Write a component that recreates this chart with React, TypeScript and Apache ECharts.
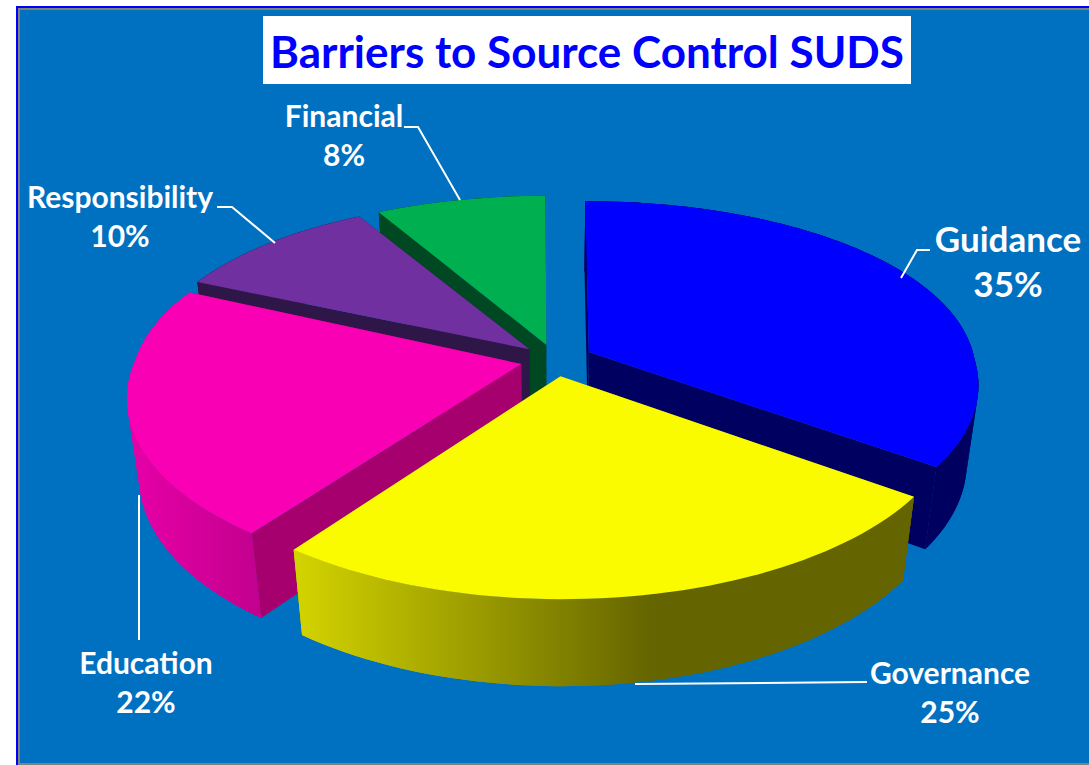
import React, { useEffect, useRef } from "react";
import * as echarts from "echarts";

const categories = ["Guidance", "Governance", "Education", "Responsibility", "Financial"];
const shares = [35, 25, 22, 10, 8];
const topColors = ["#0000ff", "#fbfb00", "#fa00b4", "#7030a0", "#00b050"];
const innerWallColors = ["#000060", "#666600", "#a6006e", "#2e1648", "#004822"];
const outerWallStops: [string, string, number][] = [
  ["#000060", "#000060", 1],
  ["#d4d400", "#646400", 0.58],
  ["#e800a8", "#c2008e", 1],
  ["#2e1648", "#2e1648", 1],
  ["#004822", "#004822", 1],
];

// Camera model for the tilted disc
const VIEW = {
  cx: 555, cy: 360, rx: 386, ry: 179,
  nearPerspective: 0.17, farPerspective: 0.12, yPerspective: 0.17,
  drop: 80, dropDepth: 0.028, explode: 0.09,
};
// Per-slice pull-out factor and angular nudge in degrees
const explodeFactor = [1.1, 1, 1, 1, 1];
const nudgeDegrees = [0, 0, 0, -1, -0.3];

// Label placement: centre x, first-line y, line gap, font size
const labelPlacement = [
  { x: 1008, y: 238, gap: 45, size: 35 },
  { x: 950, y: 672, gap: 39, size: 30 },
  { x: 146, y: 662, gap: 39, size: 30 },
  { x: 120, y: 196, gap: 39, size: 30 },
  { x: 344, y: 115, gap: 39, size: 30 },
];
const leaderLines: number[][][] = [
  [[930, 250], [917, 250], [901, 278]],
  [[867, 682], [635, 684]],
  [[139, 640], [139, 495]],
  [[217, 207], [232, 207], [275, 243]],
  [[404, 127], [418, 127], [460, 200]],
];

const total = shares.reduce((a, b) => a + b, 0);
const TAU = Math.PI * 2;

const project = (x: number, y: number, lowered: boolean): number[] => {
  const extra = lowered ? VIEW.dropDepth : 0;
  const wx = 1 + (y > 0 ? VIEW.farPerspective : VIEW.nearPerspective) * y + extra;
  const wy = 1 + VIEW.yPerspective * y + extra;
  return [
    VIEW.cx + (VIEW.rx * x) / wx,
    VIEW.cy + (-VIEW.ry * y + (lowered ? VIEW.drop : 0)) / wy,
  ];
};

// Angles run clockwise from twelve o'clock
const spans = shares.map((_, i) => {
  const before = shares.slice(0, i).reduce((a, b) => a + b, 0);
  const start = (before / total) * TAU + (nudgeDegrees[i] * Math.PI) / 180;
  return { start, end: start + (shares[i] / total) * TAU };
});

const buildSlice = (i: number) => {
  const { start, end } = spans[i];
  const mid = (start + end) / 2;
  const ox = VIEW.explode * explodeFactor[i] * Math.sin(mid);
  const oy = VIEW.explode * explodeFactor[i] * Math.cos(mid);
  const steps = Math.max(8, Math.ceil((end - start) / 0.03));
  const rim: number[][] = [];
  for (let s = 0; s <= steps; s++) {
    const a = start + ((end - start) * s) / steps;
    rim.push([ox + Math.sin(a), oy + Math.cos(a)]);
  }
  const top = rim.map((p) => project(p[0], p[1], false));
  const low = rim.map((p) => project(p[0], p[1], true));
  const apexTop = project(ox, oy, false);
  const apexLow = project(ox, oy, true);
  const xs = [...top, ...low].map((p) => p[0]);
  const [from, to, knee] = outerWallStops[i];
  const wallFill = new echarts.graphic.LinearGradient(
    Math.min(...xs), 0, Math.max(...xs), 0,
    [
      { offset: 0, color: from },
      { offset: knee, color: to },
      { offset: 1, color: to },
    ],
    true,
  );
  const flat = { fill: innerWallColors[i], stroke: "none" };
  const wall = { fill: wallFill, stroke: "none" };
  // The band keeps the interior seamless; the quads add the tangent silhouette at the extremes
  const quads = top.slice(0, -1).map((p, s) => ({
    type: "polygon",
    shape: { points: [p, top[s + 1], low[s + 1], low[s]] },
    style: wall,
  }));
  return [
    { type: "polygon", shape: { points: [apexTop, top[0], low[0], apexLow] }, style: flat },
    { type: "polygon", shape: { points: [apexTop, top[steps], low[steps], apexLow] }, style: flat },
    { type: "polygon", shape: { points: [...top, ...[...low].reverse()] }, style: wall },
    ...quads,
    { type: "polygon", shape: { points: [apexTop, ...top] }, style: { fill: topColors[i], stroke: "none" } },
  ];
};

// Far slices are painted first so nearer ones overlap them
const paintOrder = shares
  .map((_, i) => i)
  .sort((a, b) => Math.cos((spans[b].start + spans[b].end) / 2) - Math.cos((spans[a].start + spans[a].end) / 2));

export default function App() {
  const ref = useRef<HTMLDivElement>(null);
  useEffect(() => {
    const chart = echarts.init(ref.current!, null, { renderer: "svg" });
    chart.setOption({
      animation: false,
      backgroundColor: "#ffffff",
      graphic: [
        { type: "rect", z: 0, shape: { x: 16, y: 6, width: 1080, height: 770 }, style: { fill: "#0000ff" } },
        { type: "rect", z: 0, shape: { x: 18, y: 8, width: 1080, height: 770 }, style: { fill: "#808080" } },
        { type: "rect", z: 0, shape: { x: 20, y: 10, width: 1080, height: 753 }, style: { fill: "#0070c0" } },
        { type: "rect", z: 5, shape: { x: 263, y: 16, width: 648, height: 68 }, style: { fill: "#ffffff" } },
        {
          type: "text", z: 6, x: 587, y: 51,
          style: {
            text: "Barriers to Source Control SUDS",
            font: "bold 44px Lato", fill: "#0000ff", align: "center", verticalAlign: "middle",
          },
        },
        ...leaderLines.map((points) => ({
          type: "polyline", z: 6, shape: { points },
          style: { stroke: "#ffffff", lineWidth: 2, fill: "none" },
        })),
        ...categories.flatMap((name, i) => {
          const p = labelPlacement[i];
          const base = { font: `bold ${p.size}px Lato`, fill: "#ffffff", align: "center", verticalAlign: "middle" };
          return [
            { type: "text", z: 6, x: p.x, y: p.y, style: { ...base, text: name } },
            { type: "text", z: 6, x: p.x, y: p.y + p.gap, style: { ...base, text: `${shares[i]}%` } },
          ];
        }),
      ],
      series: [
        {
          type: "custom",
          coordinateSystem: "none",
          z: 3,
          silent: true,
          data: paintOrder.map((i) => ({ name: categories[i], value: shares[i] })),
          renderItem: (params: any) => ({
            type: "group",
            children: buildSlice(paintOrder[params.dataIndex]),
          }),
        },
      ],
    });
    return () => chart.dispose();
  }, []);
  return <div ref={ref} style={{ position: "fixed", left: 0, top: 0, width: 1089, height: 765 }} />;
}
